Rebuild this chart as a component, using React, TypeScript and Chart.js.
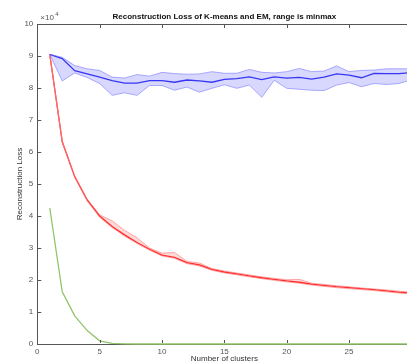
import React, { useEffect, useRef } from "react";
import { Chart, registerables } from "chart.js";

Chart.register(...registerables);

const clusters = [1,2,3,4,5,6,7,8,9,10,11,12,13,14,15,16,17,18,19,20,21,22,23,24,25,26,27,28,29,30];

const blueMean = [9.05,8.92,8.54,8.44,8.34,8.23,8.15,8.15,8.23,8.23,8.18,8.25,8.22,8.18,8.27,8.29,8.35,8.26,8.35,8.31,8.33,8.28,8.34,8.44,8.40,8.32,8.46,8.45,8.45,8.48];
const blueMax = [9.05,8.96,8.70,8.60,8.55,8.34,8.31,8.42,8.37,8.49,8.45,8.43,8.44,8.51,8.46,8.46,8.58,8.49,8.47,8.51,8.61,8.51,8.53,8.69,8.51,8.55,8.56,8.60,8.60,8.60];
const blueMin = [9.05,8.22,8.47,8.33,8.14,7.77,7.85,7.77,8.08,8.08,7.93,8.03,7.87,7.99,8.10,7.99,8.09,7.71,8.24,7.99,7.96,7.93,7.92,8.09,8.17,8.04,8.14,8.11,8.14,8.25];

const redMean = [9.05,6.32,5.23,4.50,4.00,3.67,3.41,3.17,2.96,2.78,2.71,2.54,2.47,2.33,2.25,2.19,2.13,2.07,2.02,1.97,1.93,1.87,1.83,1.79,1.76,1.73,1.70,1.66,1.62,1.59];
const redMax = [9.05,6.34,5.25,4.53,4.04,3.85,3.55,3.32,3.00,2.84,2.86,2.58,2.53,2.36,2.28,2.22,2.16,2.10,2.05,2.01,2.02,1.90,1.86,1.82,1.79,1.75,1.72,1.69,1.65,1.62];
const redMin = [9.05,6.30,5.21,4.47,3.96,3.64,3.37,3.14,2.93,2.75,2.68,2.51,2.44,2.30,2.22,2.16,2.10,2.04,1.99,1.94,1.90,1.84,1.80,1.76,1.73,1.70,1.67,1.63,1.59,1.56];

const greenMean = [4.25,1.63,0.88,0.42,0.10,0.02,0.005,0,0,0,0,0,0,0,0,0,0,0,0,0,0,0,0,0,0,0,0,0,0,0];

const xTicks = [0,5,10,15,20,25,30];
const yTicks = [0,1,2,3,4,5,6,7,8,9,10];

const titleText = "Reconstruction Loss of K-means and EM, range is minmax";
const xTitle = "Number of clusters";
const yTitle = "Reconstruction Loss";

const pts = (ys: number[]) => clusters.map((x, i) => ({ x, y: ys[i] }));

const axisPlugin = {
  id: "matlabAxes",
  afterDraw(chart: any) {
    const { ctx, chartArea, scales } = chart;
    const xs = scales.x;
    const ys = scales.y;
    ctx.save();
    ctx.strokeStyle = "#555";
    ctx.lineWidth = 1;
    ctx.beginPath();
    ctx.moveTo(chartArea.left, chartArea.top + 0.5);
    ctx.lineTo(chartArea.right, chartArea.top + 0.5);
    ctx.moveTo(chartArea.right - 0.5, chartArea.top);
    ctx.lineTo(chartArea.right - 0.5, chartArea.bottom);
    for (const t of xTicks) {
      const px = Math.round(xs.getPixelForValue(t)) + 0.5;
      ctx.moveTo(px, chartArea.bottom - 1);
      ctx.lineTo(px, chartArea.bottom - 4);
      ctx.moveTo(px, chartArea.top);
      ctx.lineTo(px, chartArea.top + 4);
    }
    for (const t of yTicks) {
      const py = Math.round(ys.getPixelForValue(t)) + 0.5;
      ctx.moveTo(chartArea.left, py);
      ctx.lineTo(chartArea.left + 4, py);
    }
    ctx.stroke();
    ctx.fillStyle = "#555";
    ctx.font = "8px 'Liberation Sans', Arial, sans-serif";
    ctx.textBaseline = "alphabetic";
    ctx.textAlign = "left";
    ctx.fillText("\u00d710", chartArea.left + 3, 20);
    ctx.font = "6px 'Liberation Sans', Arial, sans-serif";
    ctx.fillText("4", chartArea.left + 18, 16);
    ctx.restore();
  },
};

export default function App() {
  const ref = useRef<HTMLCanvasElement>(null);
  useEffect(() => {
    if (!ref.current) return;
    const font = { family: "'Liberation Sans', Arial, sans-serif", size: 8 };
    const chart = new Chart(ref.current, {
      type: "line",
      data: {
        datasets: [
          { data: pts(blueMin), borderColor: "rgba(120,120,255,0.6)", borderWidth: 1, pointRadius: 0, fill: false },
          { data: pts(blueMax), borderColor: "rgba(120,120,255,0.6)", borderWidth: 1, pointRadius: 0, fill: "-1", backgroundColor: "rgba(60,60,255,0.2)" },
          { data: pts(blueMean), borderColor: "#3535f0", borderWidth: 1.3, pointRadius: 0, fill: false },
          { data: pts(redMin), borderColor: "rgba(255,120,120,0.6)", borderWidth: 1, pointRadius: 0, fill: false },
          { data: pts(redMax), borderColor: "rgba(255,120,120,0.6)", borderWidth: 1, pointRadius: 0, fill: "-1", backgroundColor: "rgba(255,60,60,0.2)" },
          { data: pts(redMean), borderColor: "#ff2a2a", borderWidth: 1.3, pointRadius: 0, fill: false },
          { data: pts(greenMean), borderColor: "#93c46a", borderWidth: 1.3, pointRadius: 0, fill: false, clip: 4 },
        ],
      },
      options: {
        responsive: false,
        animation: false,
        events: [],
        layout: { padding: { left: 0, right: 18.6, top: 2.4, bottom: 0 } },
        plugins: {
          legend: { display: false },
          tooltip: { enabled: false },
          title: {
            display: true,
            text: titleText,
            fullSize: false,
            color: "#111",
            font: { family: font.family, size: 8, weight: "bold" },
            padding: { top: 10, bottom: 2 },
          },
        },
        scales: {
          x: {
            type: "linear",
            min: 0,
            max: 30,
            afterFit: (s: any) => { s.height = 28; },
            afterBuildTicks: (s: any) => { s.ticks = xTicks.map((v) => ({ value: v })); },
            ticks: { color: "#555", font, padding: 3, maxRotation: 0, autoSkip: false },
            grid: { display: false, drawTicks: false },
            border: { display: true, color: "#555", width: 1 },
            title: { display: true, text: xTitle, color: "#333", font, padding: { top: 0, bottom: 8 } },
          },
          y: {
            type: "linear",
            min: 0,
            max: 10,
            afterFit: (s: any) => { s.width = 37.3; },
            afterBuildTicks: (s: any) => { s.ticks = yTicks.map((v) => ({ value: v })); },
            ticks: { color: "#555", font, padding: 4, autoSkip: false },
            grid: { display: false, drawTicks: false },
            border: { display: true, color: "#555", width: 1 },
            title: { display: true, text: yTitle, color: "#333", font, padding: { top: 15, bottom: 0 } },
          },
        },
      },
      plugins: [axisPlugin],
    } as any);
    return () => chart.destroy();
  }, []);
  return (
    <div style={{ position: "fixed", left: 0, top: 0, width: 407, height: 362, overflow: "hidden", background: "#fff" }}>
      <canvas ref={ref} width={430} height={372} style={{ position: "absolute", left: 0, top: 0, width: 430, height: 372 }} />
    </div>
  );
}
